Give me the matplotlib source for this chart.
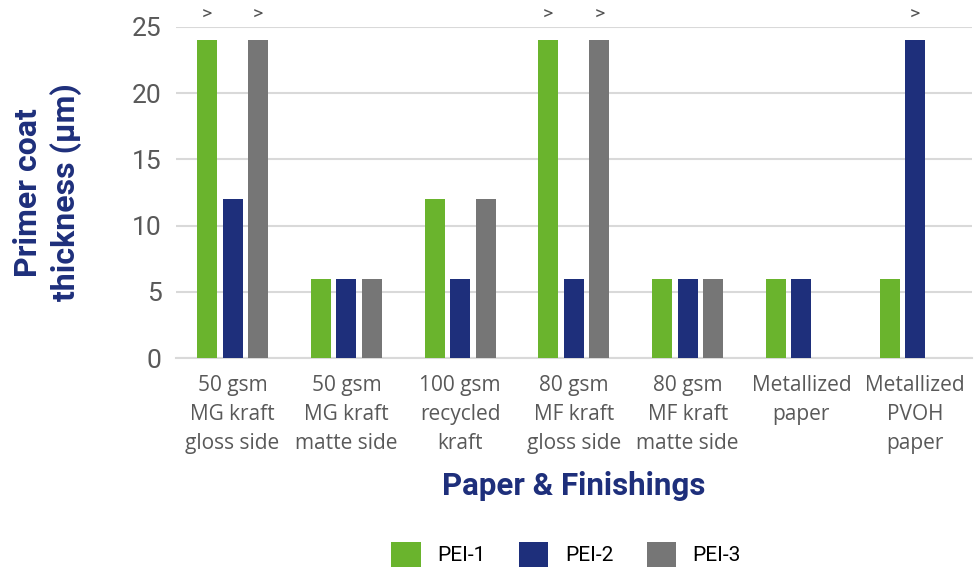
import matplotlib.pyplot as plt
import numpy as np

categories = [
    "50 gsm\nMG kraft\ngloss side",
    "50 gsm\nMG kraft\nmatte side",
    "100 gsm\nrecycled\nkraft",
    "80 gsm\nMF kraft\ngloss side",
    "80 gsm\nMF kraft\nmatte side",
    "Metallized\npaper",
    "Metallized\nPVOH\npaper",
]
series_names = ["PEI-1", "PEI-2", "PEI-3"]
pei1 = [24, 6, 12, 24, 6, 6, 6]
pei2 = [12, 6, 6, 6, 6, 6, 24]
pei3 = [24, 6, 12, 24, 6, np.nan, np.nan]
# ">" marks values beyond the tested maximum
beyond = [
    [True, False, False, True, False, False, False],
    [False, False, False, False, False, False, True],
    [True, False, False, True, False, False, False],
]

colors = ["#6ab42d", "#1e2f7b", "#767676"]
navy = "#1e2f7b"

fig = plt.figure(figsize=(9.76, 5.74), dpi=100)
ax = fig.add_axes([0.180, 0.376, 0.816, 0.577])

x = np.arange(len(categories))
width = 0.176
step = 0.225
for i, (vals, name) in enumerate(zip([pei1, pei2, pei3], series_names)):
    xs = x + (i - 1) * step
    ax.bar(xs, vals, width, color=colors[i], label=name, zorder=3)
    for xi, v, flag in zip(xs, vals, beyond[i]):
        if flag:
            ax.text(xi, 25.9, ">", ha="center", va="center", fontsize=14,
                    color="#555555", family="Roboto", clip_on=False)

ax.set_xlim(-0.5, len(categories) - 0.5)
ax.set_ylim(0, 25)
ax.set_yticks([0, 5, 10, 15, 20, 25])
ax.grid(axis="y", color="#d9d9d9", linewidth=1.5, zorder=0)
for s in ["top", "right", "left"]:
    ax.spines[s].set_visible(False)
ax.spines["bottom"].set_color("#d9d9d9")
ax.spines["bottom"].set_linewidth(1.5)
ax.tick_params(length=0)
ax.tick_params(axis="y", pad=10, labelsize=19, labelcolor="#595959")
ax.tick_params(axis="x", pad=12)
for lbl in ax.get_yticklabels():
    lbl.set_family("Roboto")
ax.set_xticks(x)
ax.set_xticklabels(categories, fontsize=15, color="#595959", family="Open Sans",
                   linespacing=1.5)

ax.set_xlabel("Paper & Finishings", fontsize=22.5, fontweight="bold", color=navy,
              family="Roboto", labelpad=12)
ax.set_ylabel("Primer coat\nthickness (µm)", fontsize=23, fontweight="bold",
              color=navy, family="Roboto", labelpad=36, linespacing=1.3)

fig.legend(loc="center", bbox_to_anchor=(0.58, 0.034), ncol=3, frameon=False,
           prop={"family": "Roboto", "size": 15}, handlelength=1.4,
           handleheight=1.4, columnspacing=1.6, handletextpad=0.8)

fig.savefig("out.png", dpi=100)
